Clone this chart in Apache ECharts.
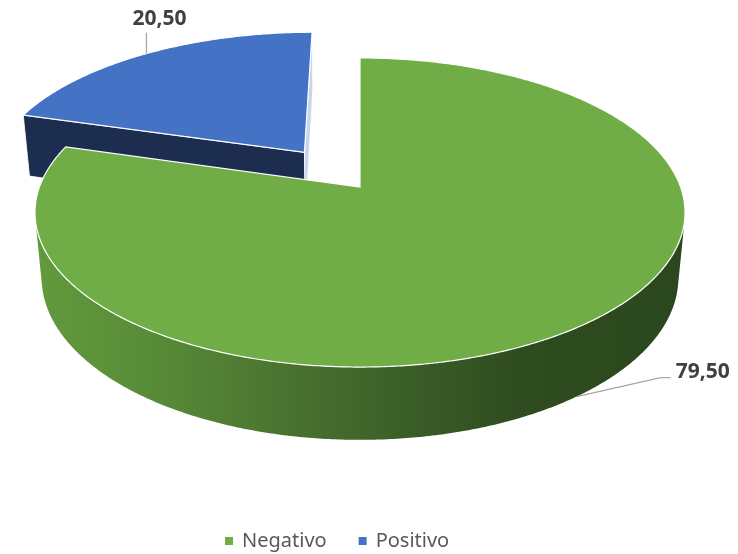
<!DOCTYPE html>
<html>
<head>
<meta charset="utf-8">
<script src="https://cdn.jsdelivr.net/npm/echarts@6/dist/echarts.min.js"></script>
<style>
  html, body { margin: 0; padding: 0; background: #fff; }
  #chart { width: 738px; height: 554px; }
</style>
</head>
<body>
<div id="chart"></div>
<script>
  // data
  const CATEGORIES = ['Negativo', 'Positivo']
  const VALUES = [79.5, 20.5]
  const LABELS = ['79,50', '20,50']

  // styles
  const TOP_COLORS = ['#70ad47', '#4472c4']
  const SIDE_COLORS = ['#2c4a1e', '#1c2d4f']
  const END_FACE_COLORS = ['#2c4a1e', '#c9d5ee']
  const EXPLODE = [0, 0.3]

  // fake 3d camera: disk of radius 1 seen from above at an angle, perspective
  const CX = 360
  const CY = 187
  const F = 1715
  const D = 5.35
  const SIN_A = 0.469
  const COS_A = 0.883
  const H = 0.233

  function project (X, Y, Z) {
    const depth = D - (Z * COS_A + Y * SIN_A)
    return [CX + F * X / depth, CY + F * (Z * SIN_A - Y * COS_A) / depth]
  }

  function wallFill (i) {
    if (i === 1) return SIDE_COLORS[1]
    return {
      type: 'linear',
      x: 40, y: 0, x2: 680, y2: 0,
      global: true,
      colorStops: [
        { offset: 0, color: '#62993d' },
        { offset: 0.19, color: '#578a37' },
        { offset: 0.375, color: '#4a7430' },
        { offset: 0.56, color: '#3c5f28' },
        { offset: 0.75, color: '#2f4c20' },
        { offset: 1, color: '#2b471d' }
      ]
    }
  }

  function sliceAngles (i) {
    const total = VALUES.reduce((a, b) => a + b, 0)
    const before = VALUES.slice(0, i).reduce((a, b) => a + b, 0)
    const start = before / total * Math.PI * 2
    const end = start + VALUES[i] / total * Math.PI * 2
    return { start, end }
  }

  function renderSlice (i, value) {
    const { start, end } = sliceAngles(i)
    const mid = (start + end) / 2
    const ex = EXPLODE[i] * Math.sin(mid)
    const ez = -EXPLODE[i] * Math.cos(mid)
    const rim = (t, Y) => project(ex + Math.sin(t), Y, ez - Math.cos(t))
    const center = Y => project(ex, Y, ez)
    const steps = Math.max(2, Math.ceil((end - start) / (Math.PI / 360)))
    const children = []

    // radial faces
    const startVis = D * COS_A * -Math.sin(start) - (ex * -Math.cos(start) + ez * -Math.sin(start))
    const endVis = D * COS_A * Math.sin(end) - (ex * Math.cos(end) + ez * Math.sin(end))
    const faces = [[start, startVis, SIDE_COLORS[i]], [end, endVis, END_FACE_COLORS[i]]]
    faces.forEach(([t, vis, color]) => {
      if (vis < -0.01) return
      children.push({
        type: 'polygon',
        shape: { points: [center(0), rim(t, 0), rim(t, -H), center(-H)] },
        style: { fill: color, stroke: '#fff', lineWidth: 0.8 }
      })
    })

    // outer wall, only the runs facing the camera
    const runs = []
    let run = null
    for (let k = 0; k <= steps; k++) {
      const t = start + (end - start) * k / steps
      const vis = -D * COS_A * Math.cos(t) - (ex * Math.sin(t) - ez * Math.cos(t)) - 1
      if (vis > 0) {
        if (!run) { run = []; runs.push(run) }
        run.push(t)
      } else {
        run = null
      }
    }
    runs.forEach(ts => {
      if (ts.length < 2) return
      const pts = ts.map(t => rim(t, 0)).concat(ts.slice().reverse().map(t => rim(t, -H)))
      children.push({
        type: 'polygon',
        shape: { points: pts },
        style: { fill: wallFill(i) }
      })
    })

    // top
    const topPts = [center(0)]
    for (let k = 0; k <= steps; k++) topPts.push(rim(start + (end - start) * k / steps, 0))
    children.push({
      type: 'polygon',
      shape: { points: topPts },
      style: { fill: TOP_COLORS[i], stroke: '#fff', lineWidth: 1.2 }
    })

    // data label with leader line
    const labelStyle = {
      fill: '#404040',
      fontSize: 21,
      fontWeight: 'bold',
      fontFamily: 'Noto Sans'
    }
    if (i === 0) {
      const a = rim(mid, -H)
      const b = [a[0] + 84, a[1] - 19]
      const c = [b[0] + 10, b[1]]
      children.push({
        type: 'polyline',
        shape: { points: [a, b, c] },
        style: { stroke: '#a6a6a6', lineWidth: 1.3, fill: null }
      })
      children.push({
        type: 'text',
        style: Object.assign({ text: LABELS[i], x: c[0] + 5, y: c[1] - 6, align: 'left', verticalAlign: 'middle' }, labelStyle)
      })
    } else {
      const a = rim(mid, 0)
      const b = [a[0], a[1] - 21]
      children.push({
        type: 'polyline',
        shape: { points: [a, b] },
        style: { stroke: '#a6a6a6', lineWidth: 1.3, fill: null }
      })
      children.push({
        type: 'text',
        style: Object.assign({ text: LABELS[i], x: a[0] + 13, y: b[1] - 14, align: 'center', verticalAlign: 'middle' }, labelStyle)
      })
    }

    return { type: 'group', children }
  }

  // the slice at the back is drawn first
  const DRAW_ORDER = [1, 0]

  const chart = echarts.init(document.getElementById('chart'))
  chart.setOption({
    animation: false,
    legend: {
      data: CATEGORIES,
      top: 526,
      left: 220,
      icon: 'rect',
      itemWidth: 8,
      itemHeight: 8,
      itemGap: 32,
      textStyle: { fontSize: 20, color: '#595959', fontFamily: 'Noto Sans', padding: [0, 0, 0, 4] }
    },
    series: DRAW_ORDER.map(i => ({
      type: 'custom',
      name: CATEGORIES[i],
      coordinateSystem: 'none',
      itemStyle: { color: TOP_COLORS[i] },
      data: [[VALUES[i]]],
      renderItem: (params, api) => renderSlice(i, api.value(0))
    }))
  })
</script>
</body>
</html>
